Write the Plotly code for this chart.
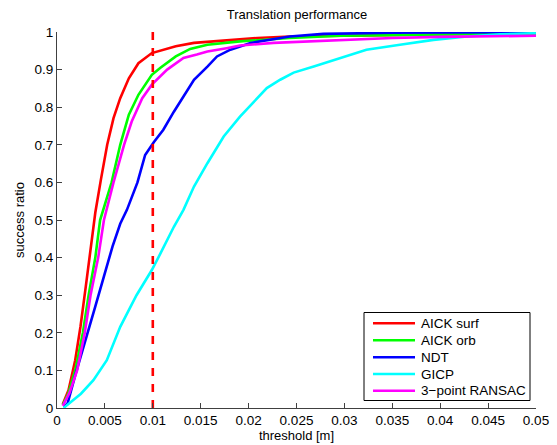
import plotly.graph_objects as go

# ---- data ----
surf_x = [0.0006, 0.0012, 0.0019, 0.00245, 0.0030, 0.0035, 0.0040, 0.0046, 0.00524, 0.0059, 0.0066, 0.0075,
          0.0085, 0.0099, 0.0124, 0.0143, 0.0174, 0.0209, 0.0243, 0.0296, 0.035, 0.040, 0.045, 0.050]
surf_y = [0.01, 0.047, 0.127, 0.216, 0.322, 0.42, 0.52, 0.61, 0.70, 0.771, 0.824, 0.877,
          0.917, 0.944, 0.962, 0.971, 0.977, 0.984, 0.988, 0.990, 0.993, 0.995, 0.996, 0.997]

orb_x = [0.0006, 0.0012, 0.0019, 0.0027, 0.0033, 0.0040, 0.0045, 0.0057, 0.0066, 0.0075, 0.0085, 0.0099,
         0.0108, 0.0124, 0.0139, 0.0157, 0.0191, 0.0243, 0.0296, 0.035, 0.040, 0.045, 0.050]
orb_y = [0.008, 0.04, 0.10, 0.20, 0.30, 0.40, 0.50, 0.60, 0.70, 0.78, 0.833, 0.886,
         0.905, 0.935, 0.955, 0.966, 0.975, 0.984, 0.990, 0.992, 0.994, 0.995, 0.996]

ndt_x = [0.0007, 0.0011, 0.0019, 0.0030, 0.0040, 0.0049, 0.0058, 0.0066, 0.0073, 0.0084, 0.0092,
         0.0101, 0.0111, 0.0122, 0.0132, 0.0143, 0.0157, 0.0167, 0.0181, 0.0202, 0.0243, 0.0278, 0.035,
         0.040, 0.045, 0.050]
ndt_y = [0.003, 0.012, 0.087, 0.18, 0.27, 0.35, 0.43, 0.49, 0.527, 0.60, 0.673,
         0.707, 0.74, 0.788, 0.828, 0.873, 0.908, 0.935, 0.953, 0.971, 0.988, 0.995, 0.998,
         0.999, 1.0, 1.0]

gicp_x = [0.0007, 0.0010, 0.0025, 0.0038, 0.0052, 0.0066, 0.0083, 0.0099, 0.0108, 0.0122, 0.0132, 0.0143,
          0.0157, 0.0174, 0.0191, 0.0202, 0.0219, 0.0233, 0.0247, 0.0268, 0.0296, 0.0323, 0.0358, 0.0393,
          0.0428, 0.0463, 0.050]
gicp_y = [0.0, 0.007, 0.038, 0.074, 0.127, 0.216, 0.30, 0.367, 0.411, 0.482, 0.527, 0.589,
          0.651, 0.722, 0.775, 0.806, 0.851, 0.873, 0.892, 0.908, 0.931, 0.953, 0.966, 0.979,
          0.988, 0.994, 0.997]

ransac_x = [0.0006, 0.0013, 0.0021, 0.0029, 0.0035, 0.0043, 0.0049, 0.0059, 0.0070, 0.0078, 0.0089, 0.0099,
            0.0115, 0.0132, 0.0146, 0.0157, 0.0177, 0.0191, 0.0226, 0.0296, 0.035, 0.040, 0.045, 0.050]
ransac_y = [0.006, 0.04, 0.10, 0.20, 0.30, 0.40, 0.50, 0.60, 0.70, 0.762, 0.824, 0.860,
            0.90, 0.931, 0.940, 0.948, 0.957, 0.964, 0.971, 0.979, 0.984, 0.987, 0.989, 0.990]

threshold_x = [0.01, 0.01]
threshold_y = [0.0, 1.0]

x_ticks = [0, 0.005, 0.01, 0.015, 0.02, 0.025, 0.03, 0.035, 0.04, 0.045, 0.05]
x_ticklabels = ["0", "0.005", "0.01", "0.015", "0.02", "0.025", "0.03", "0.035", "0.04", "0.045", "0.05"]
y_ticks = [0, 0.1, 0.2, 0.3, 0.4, 0.5, 0.6, 0.7, 0.8, 0.9, 1]
y_ticklabels = ["0", "0.1", "0.2", "0.3", "0.4", "0.5", "0.6", "0.7", "0.8", "0.9", "1"]

series_names = ["AICK surf", "AICK orb", "NDT", "GICP", "3\u2212point RANSAC"]
series_x = [surf_x, orb_x, ndt_x, gicp_x, ransac_x]
series_y = [surf_y, orb_y, ndt_y, gicp_y, ransac_y]
series_colors = ["#ff0000", "#00ff00", "#0000ff", "#00ffff", "#ff00ff"]

# ---- layout constants (pixels) ----
W, H = 557, 445
L, R, T, B = 57, 21, 32, 37
PW, PH = W - L - R, H - T - B


def px_x(p):
    return (p - L) / PW


def px_y(p):
    return (H - B - p) / PH


fig = go.Figure()
for name, xs, ys, col in zip(series_names, series_x, series_y, series_colors):
    fig.add_trace(go.Scatter(x=xs, y=ys, mode="lines", name=name, showlegend=False,
                             line=dict(color=col, width=2.6)))

fig.add_trace(go.Scatter(x=threshold_x, y=threshold_y, mode="lines", showlegend=False,
                         line=dict(color="#ff0000", width=2.6, dash="8px,8px")))

# ---- custom legend (MATLAB style) ----
shapes = [dict(type="rect", xref="paper", yref="paper",
               x0=px_x(364), x1=px_x(530), y0=px_y(400.5), y1=px_y(312.5),
               line=dict(color="black", width=1), fillcolor="white", layer="above")]
annotations = []
legend_rows = [323.3, 340.3, 357.2, 374.0, 390.8]
for name, col, yy in zip(series_names, series_colors, legend_rows):
    shapes.append(dict(type="line", xref="paper", yref="paper",
                       x0=px_x(373), x1=px_x(415), y0=px_y(yy), y1=px_y(yy),
                       line=dict(color=col, width=2.6), layer="above"))
    annotations.append(dict(text=name, xref="paper", yref="paper", x=px_x(419), y=px_y(yy),
                            xanchor="left", yanchor="middle", showarrow=False,
                            font=dict(size=13.5, color="black")))

font = "Liberation Sans, Arial, Helvetica, sans-serif"
fig.update_layout(
    width=W, height=H,
    margin=dict(l=L, r=R, t=T, b=B, autoexpand=False),
    paper_bgcolor="white", plot_bgcolor="white",
    font=dict(family=font, size=13.5, color="black"),
    title=dict(text="Translation performance", x=px_x(297), xref="paper", xanchor="center",
               y=1 - 14 / H, yanchor="middle", font=dict(size=13)),
    showlegend=False,
    shapes=shapes, annotations=annotations,
)
fig.update_xaxes(range=[0, 0.05], tickvals=x_ticks, ticktext=x_ticklabels,
                 ticks="inside", ticklen=5, tickcolor="#404040",
                 showline=True, linecolor="#404040", linewidth=1,
                 showgrid=False, zeroline=False, mirror=False, automargin=False,
                 title=dict(text="threshold [m]", standoff=3, font=dict(size=13)))
fig.update_yaxes(range=[0, 1], tickvals=y_ticks, ticktext=y_ticklabels,
                 ticks="inside", ticklen=5, tickcolor="#404040",
                 showline=True, linecolor="#404040", linewidth=1,
                 showgrid=False, zeroline=False, mirror=False, automargin=False,
                 title=dict(text="success ratio", standoff=6, font=dict(size=13)))

fig.write_html("out.html", config={"displayModeBar": False},
               post_script="document.body.style.margin='0';document.body.style.padding='0';")
